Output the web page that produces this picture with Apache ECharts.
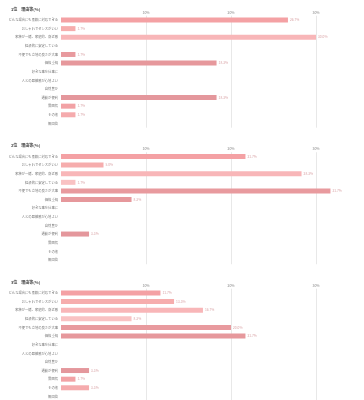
<!DOCTYPE html>
<html><head><meta charset="utf-8">
<script src="https://cdn.jsdelivr.net/npm/echarts@6/dist/echarts.min.js"></script>
<style>html,body{margin:0;padding:0;background:#fff}#c{width:364px;height:400px}</style>
</head><body><div id="c"></div>
<script>
const categories = [
  "どんな場合にも柔軟に対応できる",
  "おしゃれでセンスがいい",
  "家族が一緒、家庭的、身近感",
  "経済的に安定している",
  "不便でも立地の良さが大事",
  "価格重視",
  "好きな事を仕事に",
  "人との距離感が心地よい",
  "自然豊か",
  "通勤が便利",
  "雰囲気",
  "その他",
  "無回答"
];
const titles = ["1位　理由等(%)", "2位　理由等(%)", "3位　理由等(%)"];
const rank1 = [26.7, 1.7, 30.0, null, 1.7, 18.3, null, null, null, 18.3, 1.7, 1.7, null];
const rank2 = [21.7, 5.0, 28.3, 1.7, 31.7, 8.3, null, null, null, 3.3, null, null, null];
const rank3 = [11.7, 13.3, 16.7, 8.3, 20.0, 21.7, null, null, null, 3.3, 1.7, 3.3, null];
const axisTicks = [0, 10, 20, 30, 40];

const palette = ["#f4a1a4","#f6adad","#f8b6b8","#f9c2c3","#e89a9e","#e6989c","#e89a9e","#e89a9e","#e89a9e","#e4979c","#f2a2a5","#f5abad","#f5abad"];
const seriesData = [rank1, rank2, rank3];
const panelH = 136.5;
const font = '"Noto Sans CJK JP", "Noto Sans", sans-serif';

const option = {
  backgroundColor: '#fff',
  animation: false,
  title: titles.map((t, i) => ({
    text: t, left: 6, top: 2 + i * panelH,
    textStyle: {fontSize: 4, fontWeight: 'bold', color: '#444', fontFamily: font}
  })),
  grid: seriesData.map((d, i) => ({left: 61, width: 340, top: 15.7 + i * panelH, height: 112, outerBoundsMode: 'none', containLabel: false})),
  xAxis: seriesData.map((d, i) => ({
    type: 'value', gridIndex: i, position: 'top',
    min: axisTicks[0], max: axisTicks[axisTicks.length - 1], interval: axisTicks[1] - axisTicks[0],
    axisLine: {show: false}, axisTick: {show: false},
    axisLabel: {show: true, showMinLabel: false, fontSize: 3.5, color: '#888', margin: 1.5, fontFamily: font,
      formatter: v => v + '%'},
    splitLine: {show: true, showMinLine: false, lineStyle: {color: '#e2e2e2', width: 0.8}}
  })),
  yAxis: seriesData.map((d, i) => ({
    type: 'category', gridIndex: i, data: categories, inverse: true,
    axisLine: {show: false}, axisTick: {show: false},
    axisLabel: {fontSize: 3.3, color: '#777', margin: 3, fontFamily: font, interval: 0}
  })),
  series: seriesData.map((d, i) => ({
    type: 'bar', xAxisIndex: i, yAxisIndex: i, barWidth: 5,
    data: d.map((v, j) => ({value: v, itemStyle: {color: palette[j]}})),
    label: {show: true, position: 'right', distance: 2, fontSize: 3.3, color: '#d9a3a6', fontFamily: font,
      formatter: p => p.value == null ? '' : p.value.toFixed(1) + '%'}
  }))
};
echarts.init(document.getElementById('c'), null, {renderer: 'canvas'}).setOption(option);
</script></body></html>
